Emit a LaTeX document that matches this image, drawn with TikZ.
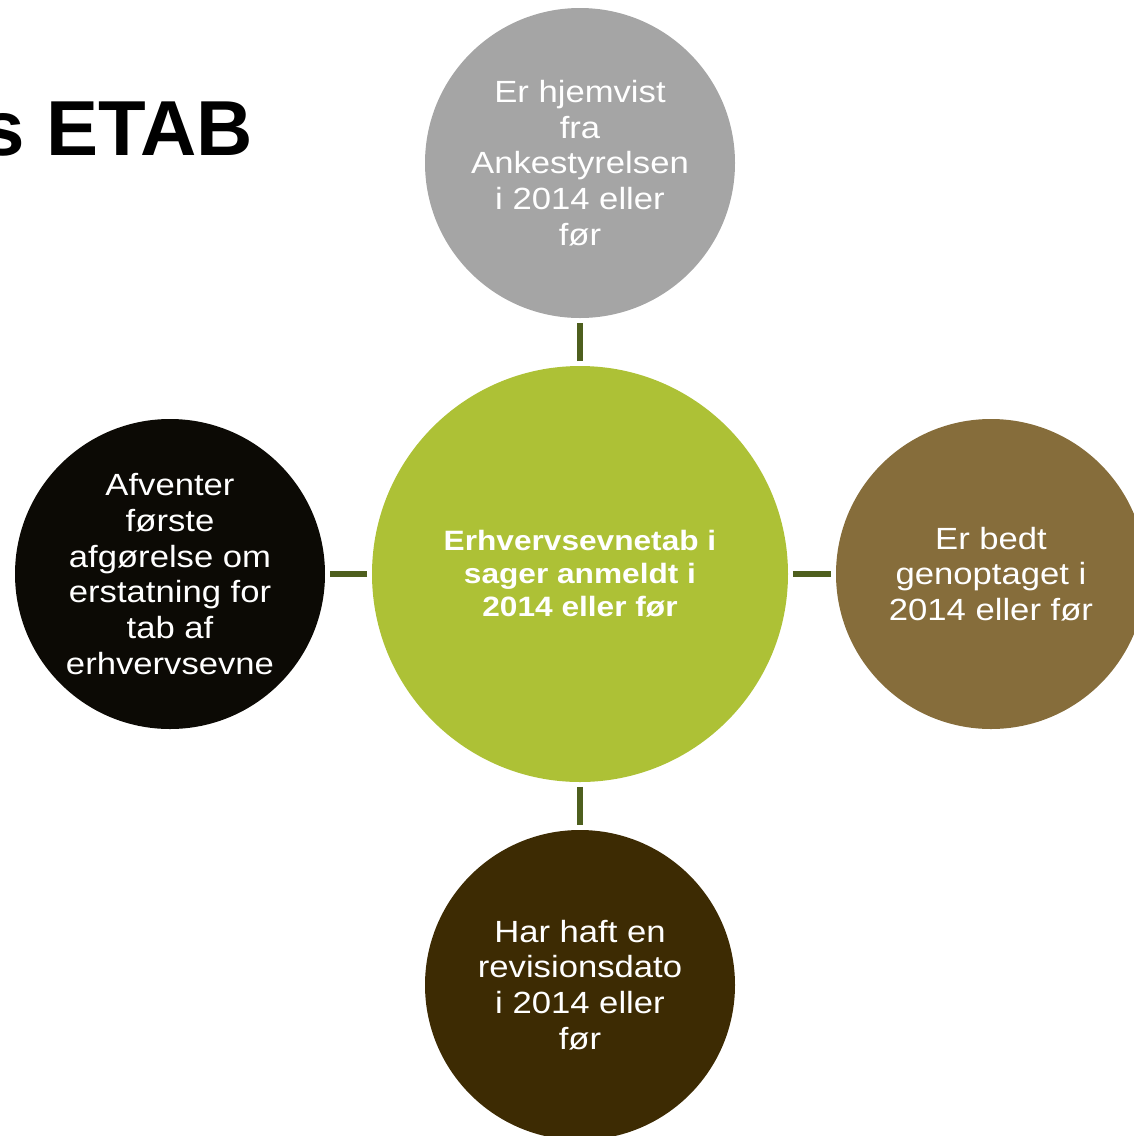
\documentclass[tikz,border=0pt]{standalone}
\usepackage{fontspec}
\setmainfont{Liberation Sans}
\newfontfamily\circlefont[FakeStretch=1.13]{Liberation Sans}

\definecolor{hubgreen}{RGB}{173,193,54}
\definecolor{topgray}{RGB}{165,165,165}
\definecolor{rightbrown}{RGB}{134,109,59}
\definecolor{bottombrown}{RGB}{61,43,3}
\definecolor{leftblack}{RGB}{12,10,5}
\definecolor{linkolive}{RGB}{78,95,30}

\begin{document}
\begin{tikzpicture}[x=0.75pt, y=-0.75pt,
    hub/.style={circle, fill=hubgreen, minimum size=312pt, inner sep=0pt, text=white, align=center,
                font=\circlefont\bfseries\fontsize{21}{24.7}\selectfont},
    satellite/.style={circle, minimum size=232.5pt, inner sep=0pt, text=white, align=center,
                      font=\circlefont\fontsize{23}{26.8}\selectfont},
    link/.style={line width=3.8pt, linkolive, shorten >=3.4pt, shorten <=3.4pt}]
  % page of the reference in pixels, origin top left
  \useasboundingbox (0,0) rectangle (1133,1136);

  % title, cut off at the left edge
  \node[anchor=base east, inner sep=0pt, font=\bfseries\fontsize{58.5}{68}\selectfont] (title) at (253,155) {s ETAB};

  % the hub and the four circles round it
  \node[hub] (center) at (580,574) {Erhvervsevnetab i\\ sager anmeldt i\\ 2014 eller før};
  \node[satellite, fill=topgray] (top) at (580,163) {Er hjemvist\\ fra\\ Ankestyrelsen\\ i 2014 eller\\ før};
  \node[satellite, fill=rightbrown] (right) at (991,574) {Er bedt\\ genoptaget i\\ 2014 eller før};
  \node[satellite, fill=bottombrown] (bottom) at (580,985) {Har haft en\\ revisionsdato\\ i 2014 eller\\ før};
  \node[satellite, fill=leftblack] (left) at (170,574) {Afventer\\ første\\ afgørelse om\\ erstatning for\\ tab af\\ erhvervsevne};

  % short links between hub and circles
  \draw[link] (center) -- (top);
  \draw[link] (center) -- (right);
  \draw[link] (center) -- (bottom);
  \draw[link] (center) -- (left);
\end{tikzpicture}
\end{document}
